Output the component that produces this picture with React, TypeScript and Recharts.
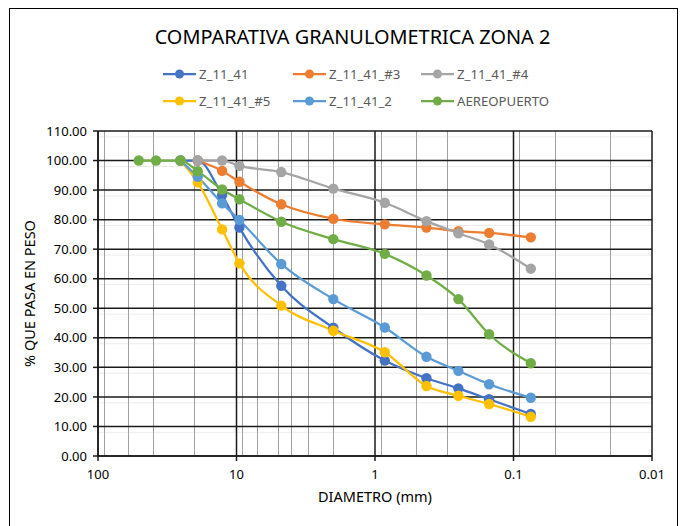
import { CartesianGrid, Line, LineChart, XAxis, YAxis } from "recharts";

const FONT = "'Noto Sans', 'Open Sans', sans-serif";

// sieve openings (mm), largest first
const SIEVES = [50.8, 38.1, 25.4, 19.05, 12.7, 9.525, 4.75, 2.0, 0.85, 0.425, 0.25, 0.15, 0.075];

const Z_11_41 = [100, 100, 88.3, 77.3, 57.6, 43.4, 32.3, 26.3, 22.9, 19.2, 14.2];
const Z_11_41_3 = [100, 96.5, 92.8, 85.2, 80.3, 78.4, 77.3, 76.1, 75.5, 74.0];
const Z_11_41_4 = [100, 100, 98.2, 96.1, 90.5, 85.7, 79.5, 75.4, 71.6, 63.4];
const Z_11_41_5 = [100, 92.6, 76.7, 65.2, 50.9, 42.4, 35.1, 23.7, 20.4, 17.6, 13.3];
const Z_11_41_2 = [100, 94.5, 85.5, 79.9, 65.0, 53.1, 43.5, 33.6, 28.8, 24.3, 19.7];
const AEREOPUERTO = [100, 100, 100, 96.4, 90.2, 86.9, 79.3, 73.4, 68.4, 61.1, 53.1, 41.2, 31.4];

const X_TICKS = [100, 10, 1, 0.1, 0.01];
const Y_TICKS = [0, 10, 20, 30, 40, 50, 60, 70, 80, 90, 100, 110];

// grid helpers (not data)
const MINOR_X: number[] = [];
for (const dec of [0.01, 0.1, 1, 10]) for (let m = 2; m <= 9; m++) MINOR_X.push(+(m * dec).toPrecision(3));
const MINOR_Y: number[] = [];
for (let v = 2; v < 110; v += 2) if (v % 10 !== 0) MINOR_Y.push(v);

// each series is aligned to the tail of the sieve list
const toPoints = (vals: number[]) => {
  const off = SIEVES.length - vals.length;
  return vals.map((p, i) => ({ d: SIEVES[off + i], p }));
};

const SERIES = [
  { name: "Z_11_41", color: "#4472C4", data: toPoints(Z_11_41) },
  { name: "Z_11_41_#3", color: "#ED7D31", data: toPoints(Z_11_41_3) },
  { name: "Z_11_41_#4", color: "#A5A5A5", data: toPoints(Z_11_41_4) },
  { name: "Z_11_41_#5", color: "#FFC000", data: toPoints(Z_11_41_5) },
  { name: "Z_11_41_2", color: "#5B9BD5", data: toPoints(Z_11_41_2) },
  { name: "AEREOPUERTO", color: "#70AD47", data: toPoints(AEREOPUERTO) },
];

function LegendBox() {
  return (
    <div
      style={{
        position: "absolute",
        top: 65,
        left: 163,
        display: "grid",
        gridTemplateColumns: "130px 128px 130px",
        rowGap: 9,
        fontFamily: FONT,
        fontSize: 13.2,
        color: "#595959",
      }}
    >
      {SERIES.map((s) => (
        <div key={s.name} style={{ display: "flex", alignItems: "center", height: 18 }}>
          <svg width={33} height={12} style={{ marginRight: 3 }}>
            <line x1={0} y1={6} x2={33} y2={6} stroke={s.color} strokeWidth={2.25} />
            <circle cx={16.5} cy={6} r={4.5} fill={s.color} />
          </svg>
          <span>{s.name}</span>
        </div>
      ))}
    </div>
  );
}

export default function App() {
  return (
    <div style={{ position: "absolute", left: 0, top: 0, width: 681, height: 526, background: "#fff", overflow: "hidden" }}>
      <div
        style={{
          position: "absolute",
          left: 9,
          top: 8,
          width: 669,
          height: 530,
          border: "1px solid #000",
          boxSizing: "border-box",
        }}
      />
      <div
        style={{
          position: "absolute",
          top: 23,
          left: 0,
          width: 705,
          textAlign: "center",
          fontFamily: FONT,
          fontSize: 19.9,
          color: "#000",
        }}
      >
        COMPARATIVA GRANULOMETRICA ZONA 2
      </div>
      <LegendBox />
      <LineChart
        width={681}
        height={526}
        margin={{ top: 131, right: 29, bottom: 40, left: 38 }}
        style={{ position: "absolute", left: 0, top: 0 }}
      >
        <CartesianGrid stroke="#ececec" strokeWidth={1} horizontalValues={MINOR_Y} vertical={false} />
        <CartesianGrid
          stroke="#a0a0a0"
          strokeWidth={1}
          verticalValues={MINOR_X}
          horizontal={false}
          shapeRendering="crispEdges"
        />
        <CartesianGrid stroke="#1a1a1a" strokeWidth={1.5} horizontalValues={Y_TICKS} verticalValues={X_TICKS} />
        <XAxis
          dataKey="d"
          type="number"
          scale="log"
          domain={[0.01, 100]}
          reversed
          allowDataOverflow
          ticks={X_TICKS}
          tickFormatter={(v: number) => String(v)}
          height={30}
          tickSize={5}
          axisLine={{ stroke: "#1a1a1a", strokeWidth: 1.5 }}
          tickLine={{ stroke: "#1a1a1a", strokeWidth: 1.5 }}
          tick={{ fontFamily: FONT, fontSize: 13, fill: "#000", dy: 7 }}
          label={{ value: "DIAMETRO (mm)", position: "insideBottom", offset: -16, fontFamily: FONT, fontSize: 14.5, fill: "#000" }}
        />
        <YAxis
          type="number"
          domain={[0, 110]}
          ticks={Y_TICKS}
          tickFormatter={(v: number) => v.toFixed(2)}
          width={60}
          tickSize={5}
          axisLine={{ stroke: "#1a1a1a", strokeWidth: 1.5 }}
          tickLine={{ stroke: "#1a1a1a", strokeWidth: 1.5 }}
          tick={{ fontFamily: FONT, fontSize: 13, fill: "#000", dx: -4 }}
          label={{
            value: "% QUE PASA EN PESO",
            angle: -90,
            position: "insideLeft",
            offset: -8,
            style: { textAnchor: "middle" },
            fontFamily: FONT,
            fontSize: 14.5,
            fill: "#000",
          }}
        />
        {SERIES.map((s) => (
          <Line
            key={s.name}
            data={s.data}
            dataKey="p"
            name={s.name}
            type="monotone"
            stroke={s.color}
            strokeWidth={2.25}
            dot={{ r: 5.2, fill: s.color, stroke: s.color, strokeWidth: 0 }}
            activeDot={false}
            isAnimationActive={false}
          />
        ))}
      </LineChart>
    </div>
  );
}
